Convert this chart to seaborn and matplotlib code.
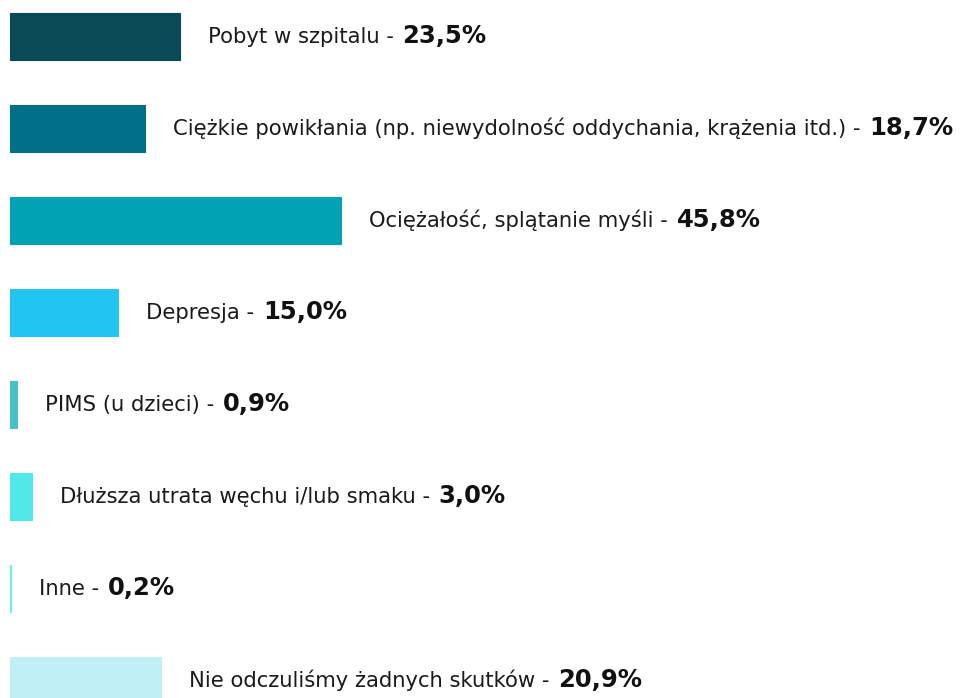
import matplotlib
matplotlib.use("Agg")
import matplotlib.pyplot as plt
import seaborn as sns
import pandas as pd

# Dane
kategorie = [
    "Pobyt w szpitalu",
    "Ciężkie powikłania (np. niewydolność oddychania, krążenia itd.)",
    "Ociężałość, splątanie myśli",
    "Depresja",
    "PIMS (u dzieci)",
    "Dłuższa utrata węchu i/lub smaku",
    "Inne",
    "Nie odczuliśmy żadnych skutków",
]
wartosci = [23.5, 18.7, 45.8, 15.0, 0.9, 3.0, 0.2, 20.9]
etykiety_wartosci = ["23,5%", "18,7%", "45,8%", "15,0%", "0,9%", "3,0%", "0,2%", "20,9%"]
kolory = ["#0a4a57", "#006f87", "#00a3b4", "#22c4f2",
          "#47c1c5", "#52e8ea", "#6ff0f0", "#c0f0f5"]

sns.set_style("white")
plt.rcParams["font.family"] = ["DejaVu Sans"]

df = pd.DataFrame({"kategoria": kategorie, "wartosc": wartosci})

fig = plt.figure(figsize=(9.61, 6.98), dpi=100)
ax = fig.add_axes([0, 0, 1, 1])

sns.barplot(data=df, x="wartosc", y="kategoria", hue="kategoria",
            palette=kolory, orient="h", width=0.51, legend=False,
            saturation=1, ax=ax)
for p, k in zip(ax.patches, kolory):
    p.set_edgecolor(k)
    p.set_linewidth(0.8)

# skala: ~7.23 px na 1%
px_na_proc = 7.23
ax.set_xlim(-10 / px_na_proc, 951 / px_na_proc)
ax.set_ylim((698 - 36.5) / 92, -36.5 / 92)
ax.axis("off")

for i, (kat, w, et) in enumerate(zip(kategorie, wartosci, etykiety_wartosci)):
    t1 = ax.annotate(kat + " - ", xy=(w, i + 0.075), xytext=(28, 0),
                     textcoords="offset pixels", va="baseline", ha="left",
                     fontsize=15.2, color="#1a1a1a")
    ax.annotate(et, xy=(1, i + 0.075), xycoords=(t1, "data"),
                xytext=(2, 0), textcoords="offset pixels",
                va="baseline", ha="left", fontsize=17.5,
                fontweight="bold", color="#111111")

fig.savefig("out.png", dpi=100)
